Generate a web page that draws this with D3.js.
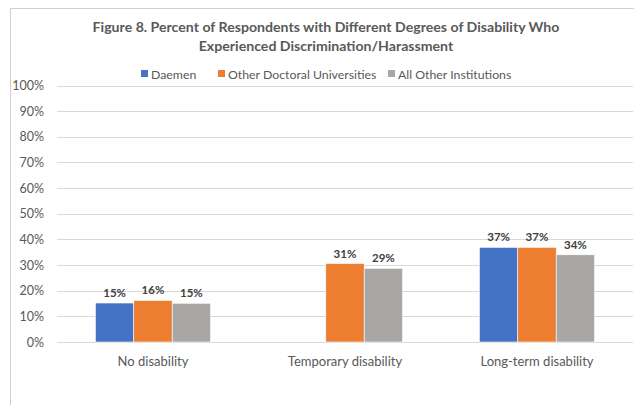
<!DOCTYPE html>
<html><head><meta charset="utf-8">
<script src="https://cdn.jsdelivr.net/npm/d3@7"></script>
<style>body{margin:0;background:#fff}svg{display:block}text{font-family:Lato,"Open Sans",sans-serif}</style>
</head><body><svg id="c" width="634" height="405"></svg>
<script>
const categories = ["No disability", "Temporary disability", "Long-term disability"];
const seriesNames = ["Daemen", "Other Doctoral Universities", "All Other Institutions"];
const daemen = [15.2, null, 36.9];
const otherDoctoral = [16.2, 30.6, 36.9];
const allOther = [15.1, 28.7, 34.0];
const yTicks = [0, 10, 20, 30, 40, 50, 60, 70, 80, 90, 100];
const colors = ["#4472C4", "#ED7D31", "#A9A7A5"];
const titleLines = ["Figure 8. Percent of Respondents with Different Degrees of Disability Who", "Experienced Discrimination/Harassment"];

const series = [daemen, otherDoctoral, allOther];
const svg = d3.select("#c");

function fit(sel, target) {
  const w = sel.node().getComputedTextLength();
  const fs = parseFloat(sel.attr("font-size"));
  sel.attr("font-size", fs * target / w);
}

// outer chart border
svg.append("rect").attr("x", 10.5).attr("y", 8.5).attr("width", 700).attr("height", 600)
  .attr("fill", "none").attr("stroke", "#D0D0D0").attr("stroke-width", 1);

const x0 = d3.scaleBand().domain(categories).range([57, 633]).paddingInner(0.4).paddingOuter(0.2);
const x1 = d3.scaleBand().domain(seriesNames).range([0, x0.bandwidth()]);
const y = d3.scaleLinear().domain([0, 100]).range([342, 85.5]);

// gridlines
svg.append("g").selectAll("line").data(yTicks).join("line")
  .attr("x1", 57).attr("x2", 633)
  .attr("y1", d => Math.round(y(d)) + 0.5).attr("y2", d => Math.round(y(d)) + 0.5)
  .attr("stroke", "#D9D9D9").attr("stroke-width", 1);

// y axis labels
const yAxis = d3.axisLeft(y).tickValues(yTicks).tickFormat(d => d + "%").tickSize(0).tickPadding(0);
const ya = svg.append("g").attr("transform", "translate(44,0)").call(yAxis);
ya.select(".domain").remove();
ya.selectAll("text").attr("font-size", 12.5).attr("fill", "#595959").attr("font-family", "Lato, sans-serif");

// bars
const groups = svg.append("g").selectAll("g").data(categories).join("g")
  .attr("transform", d => `translate(${x0(d)},0)`);
groups.each(function(cat, ci) {
  const g = d3.select(this);
  const data = seriesNames.map((s, si) => ({s, si, v: series[si][ci]})).filter(d => d.v != null);
  g.selectAll("rect").data(data).join("rect")
    .attr("x", d => x1(d.s)).attr("width", x1.bandwidth())
    .attr("y", d => y(d.v)).attr("height", d => y(0) - y(d.v))
    .attr("fill", d => colors[d.si]).attr("stroke", "#fff").attr("stroke-width", 0.6);
  g.selectAll("text").data(data).join("text")
    .attr("x", d => x1(d.s) + x1.bandwidth() / 2).attr("y", d => y(d.v) - 6)
    .attr("text-anchor", "middle").attr("font-size", 11.5).attr("font-weight", "bold")
    .attr("fill", "#404040").text(d => Math.round(d.v) + "%");
});

// x axis labels
const xAxis = d3.axisBottom(x0).tickSize(0).tickPadding(0);
const xa = svg.append("g").attr("transform", "translate(0,366)").call(xAxis);
xa.select(".domain").remove();
xa.selectAll("text").attr("dy", 0).attr("font-size", 13).attr("fill", "#595959").attr("font-family", "Lato, sans-serif");

// title
const t1 = svg.append("text").attr("x", 326).attr("y", 32).attr("text-anchor", "middle")
  .attr("font-size", 14).attr("font-weight", "bold").attr("fill", "#595959").text(titleLines[0]);
fit(t1, 467);
const t2 = svg.append("text").attr("x", 326).attr("y", 51).attr("text-anchor", "middle")
  .attr("font-size", 14).attr("font-weight", "bold").attr("fill", "#595959").text(titleLines[1]);
t2.attr("font-size", t1.attr("font-size"));

// legend
const legX = [141, 218, 388];
const leg = svg.append("g").selectAll("g").data(seriesNames).join("g")
  .attr("transform", (d, i) => `translate(${legX[i]},0)`);
leg.append("rect").attr("x", 0).attr("y", 70).attr("width", 7).attr("height", 7).attr("fill", (d, i) => colors[i]);
leg.append("text").attr("x", 10).attr("y", 78.5).attr("font-size", 12.3).attr("fill", "#595959").text(d => d);
</script></body></html>
